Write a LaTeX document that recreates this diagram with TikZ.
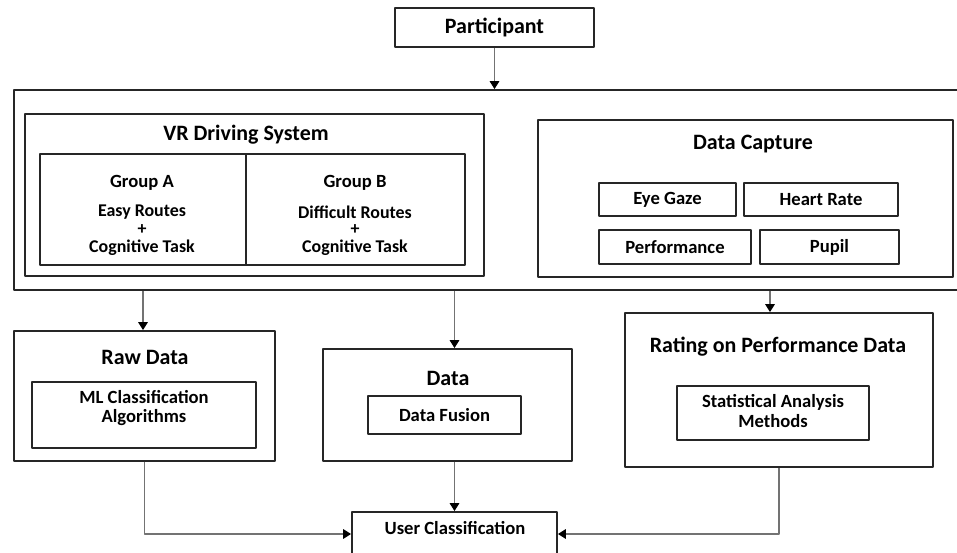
\documentclass[tikz,border=0pt]{standalone}
\usepackage{fontspec}
\setmainfont{Carlito}
\usetikzlibrary{fit,arrows.meta}
\begin{document}
\begin{tikzpicture}[x=0.02cm,y=-0.02cm,line join=round,font=\bfseries,
  box/.style={draw=black!85,line width=1.1pt,inner sep=0pt},
  ttl/.style={font=\bfseries\fontsize{12.5}{14}\selectfont},
  txt/.style={font=\bfseries\fontsize{10.6}{11}\selectfont,align=center},
  ln/.style={font=\bfseries\fontsize{10.2}{10}\selectfont,inner sep=0pt},
  arr/.style={draw=black!55,line width=0.6pt,-{Triangle[black,length=4.5pt,width=5.5pt]}}]
  \useasboundingbox (0,0) rectangle (957,553);
  \clip (0,0) rectangle (957,553);
  \node[box,fit={(395,8) (594,47)}] (part) {};
  \node[ttl] (partT) at (part) {Participant};
  \node[box,fit={(14,90) (975,290)}] (outer) {};
  \node[box,fit={(25,114) (484,276)}] (vr) {};
  \node[ttl] (vrT) at (246,135) {VR Driving System};
  \node[box,fit={(40,154) (246,265)}] (grpA) {};
  \node[box,fit={(246,154) (465,265)}] (grpB) {};
  \foreach \nm/\xc/\hd/\rt in {grpA/142/Group A/Easy Routes,grpB/355/Group B/Difficult Routes}{
    \node[txt] (\nm T) at (\xc,183) {\hd};
    \node[ln] (\nm R) at (\xc,212) {\rt};
    \node[ln] (\nm P) at (\xc,230) {+};
    \node[ln] (\nm C) at (\xc,248) {Cognitive Task};
  }
  \node[box,fit={(538,120) (953,277)}] (cap) {};
  \node[ttl] (capT) at (753,144) {Data Capture};
  \foreach \nm/\xa/\xb/\ya/\yb/\lbl in {eye/599/736/183/216/Eye Gaze,heart/744/898/183/216/Heart Rate,perf/599/751/230/264/Performance,pupil/760/899/230/264/Pupil}{
    \node[box,fit={(\xa,\ya) (\xb,\yb)}] (\nm) {};
    \node[txt] (\nm T) at (\nm) {\lbl};
  }
  \node[box,fit={(14,331) (275,461)}] (raw) {};
  \node[ttl] (rawT) at (145,357) {Raw Data};
  \node[box,fit={(32,382) (256,448)}] (ml) {};
  \node[txt,font=\bfseries\fontsize{10.6}{11.3}\selectfont] (mlT) at (144,408) {ML Classification\\Algorithms};
  \node[box,fit={(323,349) (572,461)}] (data) {};
  \node[ttl] (dataT) at (448,378) {Data};
  \node[box,fit={(368,396) (521,434)}] (fus) {};
  \node[txt] (fusT) at (fus) {Data Fusion};
  \node[box,fit={(625,313) (933,467)}] (rate) {};
  \node[ttl] (rateT) at (778,347) {Rating on Performance Data};
  \node[box,fit={(677,386) (869,440)}] (stat) {};
  \node[txt] (statT) at (773,411) {Statistical Analysis\\Methods};
  \node[box,fit={(352,512) (557,556)}] (user) {};
  \node[txt] (userT) at (455,528) {User Classification};
  \draw[arr] (part) -- (part |- outer.north);
  \draw[arr] (143,0 |- outer.south) -- (143,0 |- raw.north);
  \draw[arr] (user.north |- outer.south) -- (user.north |- data.north);
  \draw[arr] (770,0 |- outer.south) -- (770,0 |- rate.north);
  \draw[arr] (user.north |- data.south) -- (user.north);
  \draw[arr] (raw.south) |- (user.west);
  \draw[arr] (rate.south) |- (user.east);
\end{tikzpicture}
\end{document}
